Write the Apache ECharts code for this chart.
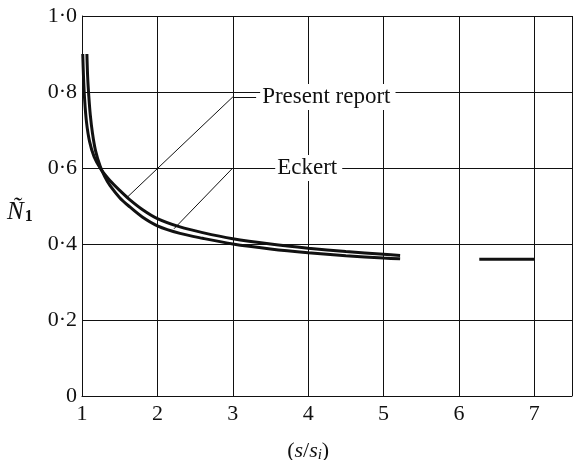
<!DOCTYPE html>
<html>
<head>
<meta charset="utf-8">
<script src="https://cdn.jsdelivr.net/npm/echarts@6/dist/echarts.min.js"></script>
<style>
  html, body { margin: 0; padding: 0; background: #fff; }
  #chart { width: 575px; height: 460px; }
</style>
</head>
<body>
<div id="chart"></div>
<script>
// Non-dimensional N1 against (s/si): present calculation and Eckert's result
const xTickLabels = ['1', '2', '3', '4', '5', '6', '7'];
const yTickLabels = ['0', '0·2', '0·4', '0·6', '0·8', '1·0'];

const presentReport = [
  [1.01, 0.90], [1.02, 0.84], [1.035, 0.78], [1.06, 0.72], [1.10, 0.67],
  [1.16, 0.63], [1.25, 0.597], [1.37, 0.567], [1.50, 0.541], [1.62, 0.519],
  [1.80, 0.491], [2.00, 0.467], [2.30, 0.445], [2.60, 0.430], [3.00, 0.414],
  [3.50, 0.400], [4.00, 0.389], [4.50, 0.380], [5.00, 0.373], [5.22, 0.370]
];
const eckert = [
  [1.065, 0.90], [1.075, 0.84], [1.09, 0.79], [1.11, 0.74], [1.14, 0.69],
  [1.18, 0.645], [1.24, 0.605], [1.30, 0.578], [1.37, 0.554], [1.50, 0.522],
  [1.62, 0.500], [1.80, 0.471], [2.00, 0.448], [2.30, 0.428], [2.60, 0.415],
  [3.00, 0.400], [3.50, 0.387], [4.00, 0.377], [4.50, 0.369], [5.00, 0.363],
  [5.22, 0.361]
];
// asymptotic value drawn further out
const asymptote = [[6.27, 0.36], [7.00, 0.36]];

// leader lines: elbow point on the x = 3 grid line, arrow tip on the curve
const presentLeader = { elbow: [3.0, 0.787], end: [3.31, 0.787], tip: [1.60, 0.523] };
const eckertLeader = { elbow: [3.0, 0.60], end: [3.51, 0.60], tip: [2.22, 0.440] };

const serif = 'Liberation Serif';
const ink = '#111';

function leader(spec, text) {
  return {
    silent: true,
    animation: false,
    symbol: ['none', 'arrow'],
    symbolSize: [0, 10],
    lineStyle: { color: ink, width: 1, type: 'solid' },
    label: { show: false },
    emphasis: { disabled: true },
    data: [
      [{ coord: spec.elbow }, { coord: spec.tip }],
      [
        { coord: spec.elbow, symbol: 'none' },
        {
          coord: spec.end, symbol: 'none',
          label: {
            show: true, position: 'end', distance: 4,
            formatter: text, color: ink, fontFamily: serif, fontSize: 23,
            backgroundColor: '#fff', padding: [2, 5, 1, 2]
          }
        }
      ]
    ]
  };
}

const chart = echarts.init(document.getElementById('chart'), null, { renderer: 'canvas' });

chart.setOption({
  animation: false,
  backgroundColor: '#fff',
  grid: { left: 82, top: 16, width: 495.3, height: 380, containLabel: false },
  xAxis: {
    type: 'value', min: 1, max: 7.5, interval: 1,
    axisLine: { show: true, onZero: false, lineStyle: { color: ink, width: 1 } },
    axisTick: { show: false },
    splitLine: { show: true, lineStyle: { color: ink, width: 1 } },
    axisLabel: {
      margin: 7, color: ink, fontFamily: serif, fontSize: 22,
      formatter: v => (Number.isInteger(v) && v - 1 < xTickLabels.length) ? xTickLabels[v - 1] : ''
    }
  },
  yAxis: {
    type: 'value', min: 0, max: 1, interval: 0.2,
    axisLine: { show: true, lineStyle: { color: ink, width: 1 } },
    axisTick: { show: false },
    splitLine: { show: true, lineStyle: { color: ink, width: 1 } },
    axisLabel: {
      margin: 5, color: ink, fontFamily: serif, fontSize: 22,
      formatter: v => yTickLabels[Math.round(v / 0.2)]
    }
  },
  series: [
    {
      name: 'Present report', type: 'line', data: presentReport,
      showSymbol: false, smooth: 0.3,
      lineStyle: { color: ink, width: 3 }, z: 3,
      markLine: leader(presentLeader, 'Present report')
    },
    {
      name: 'Eckert', type: 'line', data: eckert,
      showSymbol: false, smooth: 0.3,
      lineStyle: { color: ink, width: 3 }, z: 3,
      markLine: leader(eckertLeader, 'Eckert')
    },
    {
      name: 'Present report', type: 'line', data: asymptote,
      showSymbol: false, lineStyle: { color: ink, width: 3 }, z: 3
    }
  ]
});

// axis titles placed through the axis scales
const xTitle = chart.convertToPixel({ gridIndex: 0 }, [4, 0]);
const yTitle = chart.convertToPixel({ gridIndex: 0 }, [1, 0.484]);
chart.setOption({
  graphic: [
    {
      type: 'text', x: xTitle[0], y: xTitle[1] + 55,
      style: {
        text: '({i|s}/{i|s}{sub|i})',
        align: 'center', verticalAlign: 'middle',
        fontFamily: serif, fontSize: 22, fill: ink,
        rich: {
          i: { fontFamily: serif, fontStyle: 'italic', fontSize: 22, fill: ink },
          sub: { fontFamily: serif, fontStyle: 'italic', fontSize: 15, fill: ink, padding: [9, 0, 0, 0] }
        }
      }
    },
    {
      type: 'text', x: 7, y: yTitle[1],
      style: {
        text: '{n|Ñ}{s|1}',
        align: 'left', verticalAlign: 'middle',
        fill: ink,
        rich: {
          n: { fontFamily: serif, fontStyle: 'italic', fontSize: 25, fill: ink },
          s: { fontFamily: serif, fontWeight: 'bold', fontSize: 16, fill: ink, padding: [10, 0, 0, 1] }
        }
      }
    }
  ]
});
</script>
</body>
</html>
